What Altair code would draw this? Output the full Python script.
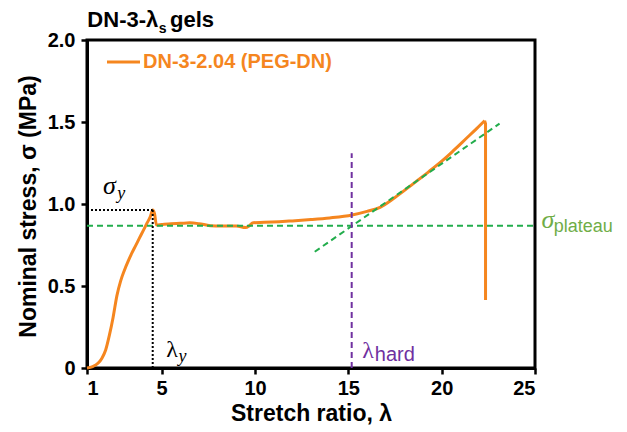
import altair as alt
import pandas as pd

# ---- data ----
stretch = [1.0, 1.3, 1.6, 1.8, 2.0, 2.2, 2.4, 2.6, 2.8, 3.0, 3.2, 3.4, 3.6, 3.8, 4.0, 4.2, 4.4, 4.52,
           4.62, 4.72, 5.0, 5.5, 6.0, 6.5, 7.0, 7.6, 8.2, 9.0, 9.5, 9.7, 9.9, 10.5, 11.3, 12.0,
           13.0, 14.0, 15.2, 16.0, 16.7, 17.5, 18.5, 19.3, 20.1, 20.7, 21.3, 21.9, 22.3]
stress = [0.0, 0.008, 0.03, 0.06, 0.11, 0.2, 0.31, 0.44, 0.53, 0.595, 0.65, 0.7, 0.745, 0.79, 0.835, 0.88, 0.925, 0.963,
          0.94, 0.872, 0.875, 0.88, 0.882, 0.885, 0.88, 0.868, 0.866, 0.866, 0.856, 0.868, 0.886, 0.888, 0.892, 0.897,
          0.905, 0.915, 0.933, 0.955, 0.98, 1.04, 1.126, 1.196, 1.27, 1.333, 1.398, 1.463, 1.508]
# break: sample snaps and stress drops
break_x = [22.3, 22.35, 22.35]
break_y = [1.508, 1.49, 0.415]

plateau_stress = 0.868
tangent_x = [13.2, 23.1]
tangent_y = [0.709, 1.49]
hard_x = 15.18
hard_top = 1.31
yield_x = 4.52
yield_y = 0.963

x_ticks = [1, 5, 10, 15, 20, 25]
y_ticks = [0, 0.5, 1.0, 1.5, 2.0]

series_name = "DN-3-2.04 (PEG-DN)"

ORANGE = "#F5861F"
GREEN = "#22AD4C"
LIGHT_GREEN = "#70AD47"
PURPLE = "#7030A0"

xs = alt.Scale(domain=[1, 25], nice=False, zero=False)
ys = alt.Scale(domain=[0, 2], nice=False)

curve = pd.DataFrame({"x": stretch, "y": stress, "i": list(range(len(stretch)))})
brk = pd.DataFrame({"x": break_x, "y": break_y, "i": list(range(len(break_x)))})

base_line = alt.Chart(curve).mark_line(color=ORANGE, strokeWidth=3, strokeJoin="round",
                                       interpolate="monotone").encode(
    x=alt.X("x:Q", scale=xs, axis=alt.Axis(
        values=x_ticks, title="Stretch ratio, λ", titleY=52, titleBaseline="alphabetic",
        labelPadding=4)),
    y=alt.Y("y:Q", scale=ys, axis=alt.Axis(
        values=y_ticks, title="Nominal stress, σ (MPa)",
        labelExpr="datum.value == 0 ? '0' : format(datum.value, '.1f')",
        titleX=-52, titleY=166, titleBaseline="alphabetic", labelPadding=6)),
    order="i:Q",
)

break_line = alt.Chart(brk).mark_line(color=ORANGE, strokeWidth=3, strokeJoin="round").encode(
    x=alt.X("x:Q", scale=xs), y=alt.Y("y:Q", scale=ys), order="i:Q")


def seg(df, color, dash, width=2):
    return alt.Chart(pd.DataFrame(df)).mark_rule(color=color, strokeDash=dash, strokeWidth=width).encode(
        x=alt.X("x:Q", scale=xs), y=alt.Y("y:Q", scale=ys),
        x2="x2:Q", y2="y2:Q")


plateau = seg({"x": [1], "y": [plateau_stress], "x2": [25], "y2": [plateau_stress]}, GREEN, [6, 4])
tangent = seg({"x": [tangent_x[0]], "y": [tangent_y[0]], "x2": [tangent_x[1]], "y2": [tangent_y[1]]}, GREEN, [6, 4])
hard = seg({"x": [hard_x], "y": [0], "x2": [hard_x], "y2": [hard_top]}, PURPLE, [6, 4])
yield_h = seg({"x": [1], "y": [yield_y], "x2": [yield_x], "y2": [yield_y]}, "black", [2, 2])
yield_v = seg({"x": [yield_x], "y": [0], "x2": [yield_x], "y2": [yield_y]}, "black", [2, 2])

legend_line = seg({"x": [2.07], "y": [1.866], "x2": [3.84], "y2": [1.866]}, ORANGE, [1, 0], 3)


def txt(x, y, s, size, color="black", font="Liberation Sans", weight="normal", style="normal", baseline="alphabetic"):
    return alt.Chart(pd.DataFrame({"x": [x], "y": [y], "t": [s]})).mark_text(
        align="left", baseline=baseline, fontSize=size, color=color, font=font,
        fontWeight=weight, fontStyle=style).encode(
        x=alt.X("x:Q", scale=xs), y=alt.Y("y:Q", scale=ys), text="t:N")


texts = [
    txt(1.02, 2.08, "DN-3-λ", 22, weight="bold"),
    txt(4.85, 2.043, "s", 14, weight="bold"),
    txt(5.45, 2.08, "gels", 22, weight="bold"),
    txt(4.0, 1.866, series_name, 20, color=ORANGE, weight="bold", baseline="middle"),
    txt(1.86, 1.058, "σ", 26, font="Liberation Serif", style="italic"),
    txt(2.62, 1.03, "y", 18, font="Liberation Serif", style="italic"),
    txt(5.25, 0.068, "λ", 24, font="Liberation Serif"),
    txt(5.9, 0.035, "y", 18, font="Liberation Serif", style="italic"),
    txt(15.75, 0.06, "λ", 24, color=PURPLE, font="Liberation Serif"),
    txt(16.42, 0.04, "hard", 20, color=PURPLE),
    txt(25.35, 0.855, "σ", 26, color=LIGHT_GREEN, font="Liberation Serif", style="italic"),
    txt(26.0, 0.83, "plateau", 18, color=LIGHT_GREEN),
]

chart = alt.layer(base_line, break_line, plateau, tangent, hard, yield_h, yield_v, legend_line, *texts).properties(
    width=448, height=328,
    autosize=alt.AutoSizeParams(type="none"),
    padding={"left": 79, "top": 32, "right": 84, "bottom": 62},
).configure_view(stroke="black", strokeWidth=3).configure_axis(
    grid=False, domainColor="black", domainWidth=3, tickColor="black", tickWidth=2.5, tickSize=6,
    labelFont="Liberation Sans", labelFontWeight="bold", labelFontSize=20, labelColor="black",
    titleFont="Liberation Sans", titleFontWeight="bold", titleFontSize=23, titleColor="black",
)

chart.save("out.html", embed_options={"renderer": "svg", "actions": False})
